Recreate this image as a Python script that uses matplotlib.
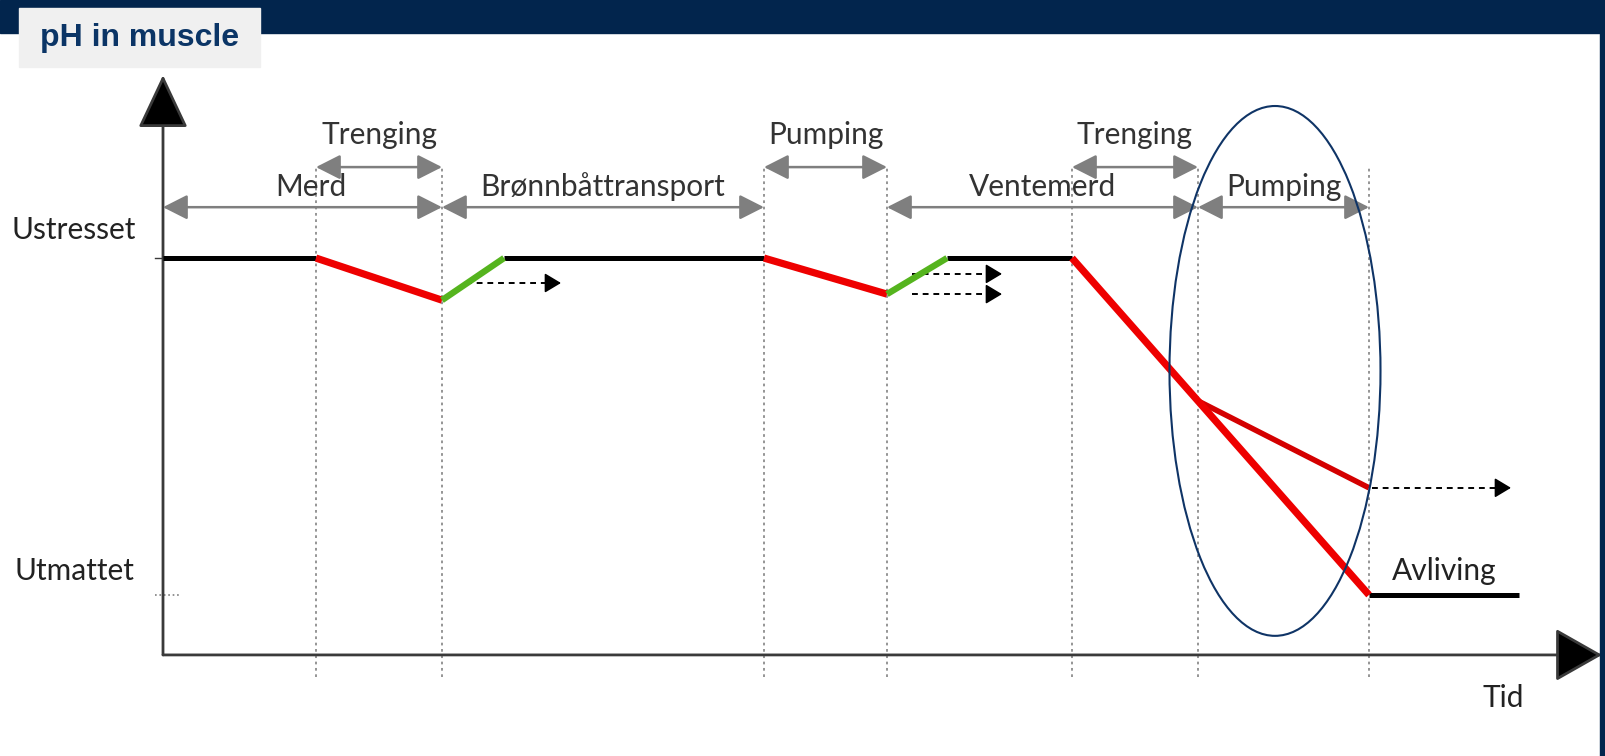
import numpy as np
import matplotlib
matplotlib.use("Agg")
import matplotlib.pyplot as plt
from matplotlib.patches import Ellipse, Rectangle, FancyArrowPatch

# phase boundaries on the time axis (arbitrary time units)
edges = [0, 1.53, 2.79, 6.01, 7.24, 9.09, 10.35, 12.06]
# stress level: 1 = Ustresset, 0 = Utmattet
ustresset, utmattet = 1.0, 0.0

# the level curve, segment by segment
seg_black = [([0, 1.53], [1.0, 1.0]), ([3.41, 6.01], [1.0, 1.0]),
             ([7.84, 9.09], [1.0, 1.0]), ([12.06, 13.56], [0.0, 0.0])]
seg_red = [([1.53, 2.79], [1.0, 0.875]), ([6.01, 7.24], [1.0, 0.893]),
           ([9.09, 12.06], [1.0, 0.0])]
seg_green = [([2.79, 3.41], [0.875, 1.0]), ([7.24, 7.84], [0.893, 1.0])]
branch = ([10.35, 12.06], [0.576, 0.318])
# dashed "continues" arrows: (x0, x1, y)
dashed = [(3.03, 3.98, 0.926), (7.49, 8.39, 0.953), (7.49, 8.39, 0.893),
          (12.09, 13.48, 0.318)]

# phase spans: (start, end, row, label)
row_lo, row_hi = 1.151, 1.270
spans = [(0, 2.79, row_lo, "Merd"), (1.53, 2.79, row_hi, "Trenging"),
         (2.79, 6.01, row_lo, "Brønnbåttransport"), (6.01, 7.24, row_hi, "Pumping"),
         (7.24, 10.35, row_lo, "Ventemerd"), (9.09, 10.35, row_hi, "Trenging"),
         (10.35, 12.06, row_lo, "Pumping")]

navy = "#02254d"
red = "#ee0000"
green = "#55b41e"
grey = "#7f7f7f"
font = ["Lato", "DejaVu Sans"]
fs = 21.5

W, H = 1606, 756
fig = plt.figure(figsize=(W / 100, H / 100), dpi=100)
ax = fig.add_axes([0, 0, 1, 1])
ax.set_xlim(-1.63, 14.43)
ax.set_ylim(-0.478, 1.766)
ax.axis("off")

# frame: top band, right strip, title box
fig.patches.append(Rectangle((0, 1 - 33 / H), 1, 33 / H, transform=fig.transFigure,
                             color=navy, zorder=0))
fig.patches.append(Rectangle((1 - 6 / W, 0), 6 / W, 1, transform=fig.transFigure,
                             color=navy, zorder=0))
fig.patches.append(Rectangle((19 / W, 1 - 67 / H), 241 / W, 59 / H,
                             transform=fig.transFigure, color="#f0f0f0", zorder=1))
fig.text(40 / W, 1 - 38 / H, "pH in muscle", fontsize=23, fontweight="bold",
         color="#0b3566", va="center", ha="left", family=["Liberation Sans", "DejaVu Sans"])

# axes with big arrowheads
y_axis0 = -0.178
ax.annotate("", xy=(0, 1.543), xytext=(0, y_axis0),
            arrowprops=dict(arrowstyle="-|>,head_length=1.7,head_width=0.8",
                            mutation_scale=20, lw=2, color="#3a3a3a", fc="black",
                            shrinkA=0, shrinkB=0))
ax.annotate("", xy=(14.39, y_axis0), xytext=(0, y_axis0),
            arrowprops=dict(arrowstyle="-|>,head_length=1.5,head_width=0.85",
                            mutation_scale=20, lw=2, color="#3a3a3a", fc="black",
                            shrinkA=0, shrinkB=0))
ax.plot([-0.08, 0], [ustresset, ustresset], color="#3a3a3a", lw=1)
ax.plot([-0.08, 0.17], [utmattet, utmattet], color=grey, lw=1.2, ls=":")

# vertical dotted phase lines
for e in edges[1:]:
    ax.plot([e, e], [-0.243, row_hi], color="#8c8c8c", lw=1.3, ls=(0, (1.5, 2)), zorder=1)

# phase span arrows and labels
for x0, x1, yy, lab in spans:
    arr = FancyArrowPatch((x0, yy), (x1, yy), arrowstyle="<|-|>,head_length=0.75,head_width=0.38",
                          mutation_scale=20, lw=1.8, color=grey, shrinkA=0, shrinkB=0)
    ax.add_patch(arr)
    off = 0.068 if yy == row_hi else 0.033
    ax.text((x0 + x1) / 2 + (0.08 if lab == "Merd" else 0), yy + off, lab, fontsize=fs,
            ha="center", va="baseline", color="#333333", family=font)

# level curve
for xs, ys in seg_black:
    ax.plot(xs, ys, color="black", lw=3.6, solid_capstyle="butt", zorder=3)
for xs, ys in seg_red:
    ax.plot(xs, ys, color=red, lw=5.2, solid_capstyle="butt", zorder=4)
for xs, ys in seg_green:
    ax.plot(xs, ys, color=green, lw=4.6, solid_capstyle="butt", zorder=4)
ax.plot(branch[0], branch[1], color="#d40000", lw=4, solid_capstyle="butt", zorder=3)

for x0, x1, yy in dashed:
    ax.plot([x0, x1 - 0.1], [yy, yy], color="black", lw=1.4, ls=(0, (3, 2.5)), zorder=2)
    ax.annotate("", xy=(x1, yy), xytext=(x1 - 0.12, yy),
                arrowprops=dict(arrowstyle="-|>,head_length=0.5,head_width=0.3",
                                mutation_scale=20, lw=1.2, color="black",
                                shrinkA=0, shrinkB=0), zorder=2)

# level labels
ax.text(-1.51, 1.083, "Ustresset", fontsize=fs, ha="left", va="center", color="#222222", family=font)
ax.text(-1.48, 0.071, "Utmattet", fontsize=fs, ha="left", va="center", color="#222222", family=font)
ax.text(12.81, 0.071, "Avliving", fontsize=fs, ha="center", va="center", color="#222222", family=font)
ax.text(13.40, -0.306, "Tid", fontsize=fs, ha="center", va="center", color="#222222", family=font)

# highlight ellipse around the last pumping phase
ax.add_patch(Ellipse((11.12, 0.665), 2.11, 530 / 337, fill=False, ec="#0f3466", lw=1.5, zorder=5))

fig.savefig("out.png", dpi=100)
